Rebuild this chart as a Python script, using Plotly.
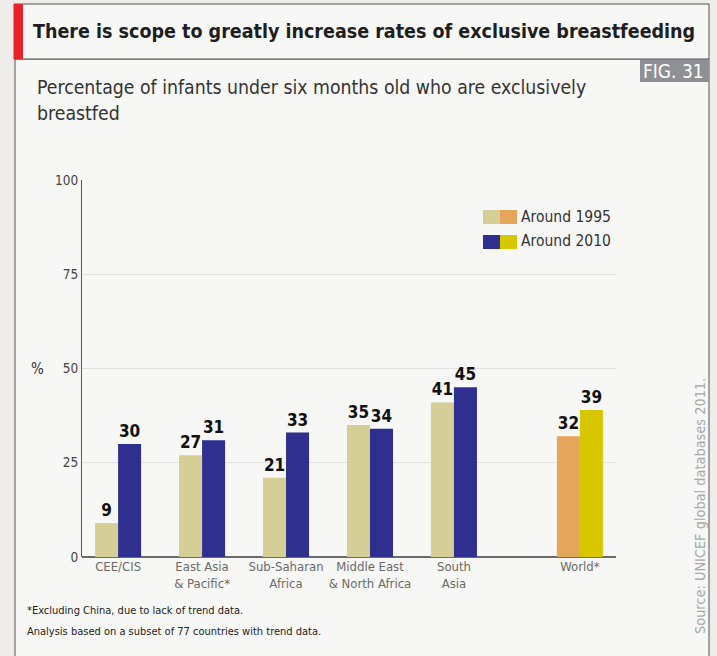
import plotly.graph_objects as go

categories = ["CEE/CIS", "East Asia<br>& Pacific*", "Sub-Saharan<br>Africa",
              "Middle East<br>& North Africa", "South<br>Asia", "World*"]
positions = [0, 1, 2, 3, 4, 5.5]
around_1995 = [9, 27, 21, 35, 41, 32]
around_2010 = [30, 31, 33, 34, 45, 39]
y_ticks = [0, 25, 50, 75, 100]

C95 = "#d5ce97"
C10 = "#2e2f8f"
W95 = "#e5a65c"
W10 = "#d6c700"
col95 = [C95] * 5 + [W95]
col10 = [C10] * 5 + [W10]

W, H = 717, 656
L, R, T, B = 82, 616, 180, 557
NARROW = "DejaVu Sans Condensed, Liberation Sans Narrow, sans-serif"

def px(x):
    return (x - L) / (R - L)

def py(y):
    return (B - y) / (B - T)

fig = go.Figure()
for vals, cols, name in [(around_1995, col95, "Around 1995"), (around_2010, col10, "Around 2010")]:
    fig.add_trace(go.Bar(x=positions, y=vals, marker=dict(color=cols, line=dict(width=0)),
                         text=vals, textposition="outside", cliponaxis=False,
                         textfont=dict(family=NARROW, size=17, color="#111"), name=name,
                         texttemplate="<b>%{text}</b>"))

shapes = []
shapes.append(dict(type="rect", xref="paper", yref="paper", x0=px(15), x1=px(709), y0=py(670), y1=py(59),
                   fillcolor="#f7f7f5", line=dict(color="#555", width=1), layer="below"))
shapes.append(dict(type="rect", xref="paper", yref="paper", x0=px(14), x1=px(709), y0=py(59), y1=py(4),
                   fillcolor="#f7f7f5", line=dict(color="#555", width=1), layer="below"))
shapes.append(dict(type="rect", xref="paper", yref="paper", x0=px(14), x1=px(23), y0=py(59), y1=py(4),
                   fillcolor="#e8212b", line=dict(width=0), layer="below"))
shapes.append(dict(type="rect", xref="paper", yref="paper", x0=px(640), x1=px(709), y0=py(82), y1=py(60),
                   fillcolor="#8e9093", line=dict(width=0), layer="below"))
for i, (ca, cb) in enumerate([(C95, W95), (C10, W10)]):
    y0 = 210 + i * 25
    shapes.append(dict(type="rect", xref="paper", yref="paper", x0=px(483), x1=px(500), y0=py(y0 + 14), y1=py(y0),
                       fillcolor=ca, line=dict(width=0)))
    shapes.append(dict(type="rect", xref="paper", yref="paper", x0=px(500), x1=px(517), y0=py(y0 + 14), y1=py(y0),
                       fillcolor=cb, line=dict(width=0)))

annotations = []
def ann(text, x, y, size, color, xanchor="left", yanchor="middle", family=NARROW, textangle=0):
    annotations.append(dict(text=text, xref="paper", yref="paper", x=px(x), y=py(y), showarrow=False,
                            xanchor=xanchor, yanchor=yanchor, textangle=textangle,
                            font=dict(family=family, size=size, color=color), align="left"))

ann("<b>There is scope to greatly increase rates of exclusive breastfeeding</b>", 31, 31, 19.5, "#1e1e1e")
ann("FIG. 31", 706, 71, 19, "#ffffff", xanchor="right")
ann("Percentage of infants under six months old who are exclusively", 35, 87, 19.3, "#333")
ann("breastfed", 35, 114, 19.3, "#333")
ann("%", 29, 369, 15, "#333")
ann("Around 1995", 519, 217, 15.5, "#333")
ann("Around 2010", 519, 241, 15.5, "#333")
ann("*Excluding China, due to lack of trend data.", 25, 610, 11, "#222")
ann("Analysis based on a subset of 77 countries with trend data.", 25, 631, 11, "#222")
ann("Source: UNICEF global databases 2011.", 700, 636, 14.4, "#a8a8a8", xanchor="center", yanchor="bottom",
    textangle=-90)

fig.update_layout(
    width=W, height=H,
    margin=dict(l=L, r=W - R, t=T, b=H - B, pad=0),
    paper_bgcolor="#eeede9",
    plot_bgcolor="rgba(0,0,0,0)",
    barmode="group", bargap=0.452, bargroupgap=0,
    showlegend=False,
    shapes=shapes, annotations=annotations,
    xaxis=dict(range=[-0.43, 5.93], tickvals=positions, ticktext=categories, tickangle=0,
               showgrid=False, zeroline=False, showline=False, ticks="",
               tickfont=dict(family=NARROW, size=13, color="#6a6a6a")),
    yaxis=dict(range=[0, 100], tickvals=y_ticks, showgrid=True, gridcolor="#e2e2e2", gridwidth=1,
               zeroline=True, zerolinecolor="#6b6b6b", zerolinewidth=1.5,
               showline=True, linecolor="#555", linewidth=1, ticks="",
               tickfont=dict(family=NARROW, size=13.5, color="#444")),
)
fig.write_html("out.html")
